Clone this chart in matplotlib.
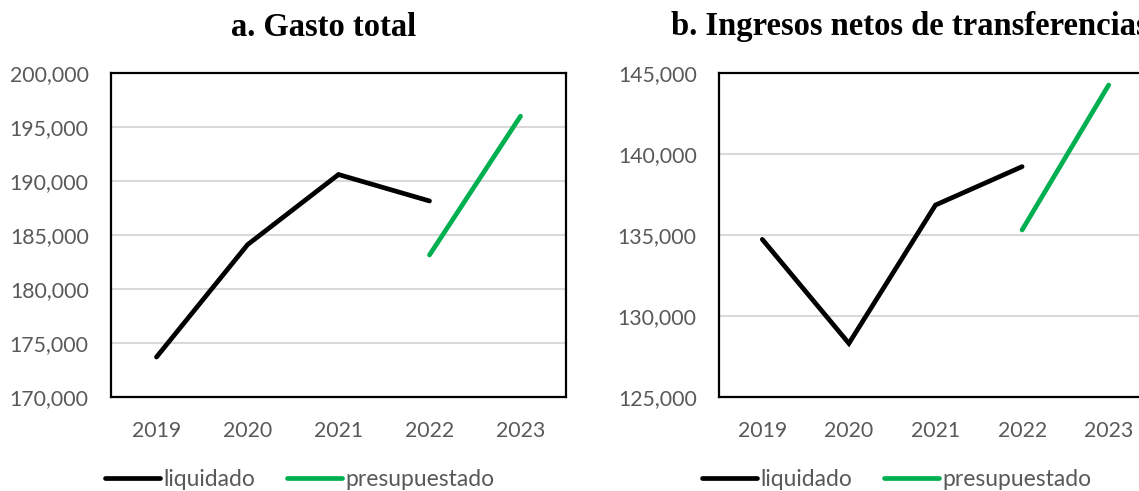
import matplotlib
matplotlib.use("Agg")
import matplotlib.pyplot as plt
from matplotlib.ticker import FuncFormatter

# Datos
years = ["2019", "2020", "2021", "2022", "2023"]

gasto_liquidado = [173700, 184100, 190600, 188150]
gasto_presupuestado = [183150, 196000]

ingresos_liquidado = [134730, 128310, 136850, 139220]
ingresos_presupuestado = [135310, 144260]

COLORS = {
    'liquidado': '#000000',
    'presupuestado': '#00B050',
    'grid': '#D9D9D9',
    'text': '#595959',
}

W, H = 1139, 491
fig = plt.figure(figsize=(W / 100, H / 100), dpi=100)
fig.patch.set_facecolor('white')

TICK_FONT = 'Lato'


def px_axes(left, top, right, bottom):
    return [left / W, 1 - bottom / H, (right - left) / W, (bottom - top) / H]


def draw_panel(ax, liq, pre, ylim, step):
    x = list(range(len(years)))
    ax.plot(x[:len(liq)], liq, color=COLORS['liquidado'], lw=3.4,
            solid_capstyle='round', solid_joinstyle='miter', label='liquidado', zorder=3)
    ax.plot(x[3:3 + len(pre)], pre, color=COLORS['presupuestado'], lw=3.4,
            solid_capstyle='round', label='presupuestado', zorder=3)
    ax.set_xlim(-0.5, len(years) - 0.5)
    ax.set_ylim(*ylim)
    ax.set_xticks(x)
    ax.set_xticklabels(years)
    ax.set_yticks(range(ylim[0], ylim[1] + 1, step))
    ax.yaxis.set_major_formatter(FuncFormatter(lambda v, p: f"{int(v):,}"))
    ax.grid(True, axis='y', color=COLORS['grid'], lw=1.5, zorder=1)
    ax.tick_params(axis='both', length=0, labelsize=15.3, labelcolor=COLORS['text'])
    ax.tick_params(axis='y', pad=16)
    ax.tick_params(axis='x', pad=17)
    for lab in ax.get_xticklabels() + ax.get_yticklabels():
        lab.set_fontfamily(TICK_FONT)
    for s in ax.spines.values():
        s.set_linewidth(1.6)
        s.set_color('black')
        s.set_zorder(4)


ax1 = fig.add_axes(px_axes(111, 73, 566, 397))
draw_panel(ax1, gasto_liquidado, gasto_presupuestado, (170000, 200000), 5000)

ax2 = fig.add_axes(px_axes(719, 73, 1152, 397))
draw_panel(ax2, ingresos_liquidado, ingresos_presupuestado, (125000, 145000), 5000)

# Títulos
fig.text(324 / W, 1 - 27 / H, "a. Gasto total", ha='center', va='center',
         fontsize=23.5, fontweight='bold', family='Liberation Serif')
fig.text(671 / W, 1 - 27 / H, "b. Ingresos netos de transferencias", ha='left', va='center',
         fontsize=23.5, fontweight='bold', family='Liberation Serif')

# Leyendas
for ax, x0 in ((ax1, 105), (ax2, 702)):
    h, l = ax.get_legend_handles_labels()
    leg = fig.legend(h, l, loc='center left', bbox_to_anchor=(x0 / W, 1 - 480 / H),
                     ncol=2, frameon=False, borderaxespad=0, borderpad=0,
                     handlelength=2.4, handletextpad=0.13, columnspacing=1.4,
                     prop={'family': TICK_FONT, 'size': 16.5})
    for t in leg.get_texts():
        t.set_color(COLORS['text'])

fig.savefig("out.png", dpi=100)
